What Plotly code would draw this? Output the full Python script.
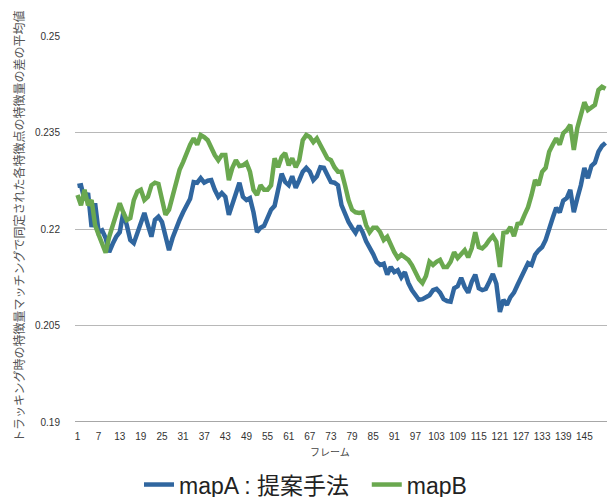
import plotly.graph_objects as go

frames = list(range(1, 152))

map_a = [
    0.2267, 0.2268, 0.2245, 0.2256, 0.2203, 0.2240, 0.2195, 0.2198, 0.2186, 0.2164,
    0.2177, 0.2188, 0.2195, 0.2225, 0.2206, 0.2183, 0.2178, 0.2195, 0.2211, 0.2225,
    0.2206, 0.2188, 0.2214, 0.2219, 0.2211, 0.2191, 0.2167, 0.2186, 0.2202, 0.2214,
    0.2226, 0.2236, 0.2247, 0.2273, 0.2272, 0.2279, 0.2272, 0.2275, 0.2276, 0.2261,
    0.2250, 0.2256, 0.2250, 0.2222, 0.2237, 0.2253, 0.2272, 0.2250, 0.2245, 0.2248,
    0.2226, 0.2195, 0.2202, 0.2205, 0.2217, 0.2230, 0.2236, 0.2264, 0.2286, 0.2273,
    0.2268, 0.2282, 0.2264, 0.2276, 0.2289, 0.2295, 0.2289, 0.2276, 0.2282, 0.2296,
    0.2295, 0.2284, 0.2273, 0.2272, 0.2268, 0.2237, 0.2222, 0.2211, 0.2202, 0.2194,
    0.2205, 0.2195, 0.2181, 0.2172, 0.2161, 0.2149, 0.2144, 0.2146, 0.2129, 0.2141,
    0.2133, 0.2136, 0.2125, 0.2133, 0.2116, 0.2105, 0.2097, 0.2090, 0.2091, 0.2094,
    0.2097, 0.2105, 0.2107, 0.2101, 0.2091, 0.2088, 0.2087, 0.2108, 0.2111, 0.2124,
    0.2110, 0.2101, 0.2118, 0.2129, 0.2108, 0.2105, 0.2107, 0.2118, 0.2130, 0.2115,
    0.2071, 0.2090, 0.2082, 0.2094, 0.2101, 0.2113, 0.2125, 0.2133, 0.2147, 0.2144,
    0.2160, 0.2167, 0.2172, 0.2183, 0.2202, 0.2217, 0.2233, 0.2226, 0.2244, 0.2248,
    0.2261, 0.2226, 0.2248, 0.2268, 0.2295, 0.2279, 0.2298, 0.2303, 0.2320, 0.2329,
    0.2334,
]

map_b = [
    0.2253, 0.2237, 0.2261, 0.2237, 0.2245, 0.2206, 0.2191, 0.2178, 0.2163, 0.2188,
    0.2206, 0.2225, 0.2240, 0.2226, 0.2214, 0.2217, 0.2245, 0.2258, 0.2261, 0.2245,
    0.2250, 0.2268, 0.2272, 0.2270, 0.2248, 0.2222, 0.2230, 0.2253, 0.2272, 0.2292,
    0.2304, 0.2320, 0.2331, 0.2341, 0.2331, 0.2346, 0.2343, 0.2338, 0.2326, 0.2315,
    0.2307, 0.2315, 0.2315, 0.2276, 0.2295, 0.2307, 0.2298, 0.2299, 0.2303, 0.2289,
    0.2261, 0.2253, 0.2268, 0.2261, 0.2261, 0.2268, 0.2310, 0.2296, 0.2312, 0.2318,
    0.2299, 0.2310, 0.2296, 0.2307, 0.2338, 0.2346, 0.2343, 0.2335, 0.2341, 0.2331,
    0.2320, 0.2310, 0.2307, 0.2296, 0.2289, 0.2289, 0.2268, 0.2245, 0.2230, 0.2226,
    0.2225, 0.2226, 0.2206, 0.2195, 0.2202, 0.2202, 0.2195, 0.2183, 0.2188, 0.2175,
    0.2164, 0.2155, 0.2160, 0.2156, 0.2152, 0.2144, 0.2133, 0.2122, 0.2116, 0.2127,
    0.2149, 0.2144, 0.2149, 0.2152, 0.2141, 0.2141, 0.2149, 0.2164, 0.2155, 0.2160,
    0.2167, 0.2156, 0.2170, 0.2195, 0.2172, 0.2170, 0.2175, 0.2183, 0.2189, 0.2180,
    0.2141, 0.2194, 0.2195, 0.2203, 0.2189, 0.2208, 0.2209, 0.2222, 0.2234, 0.2253,
    0.2276, 0.2268, 0.2289, 0.2295, 0.2320, 0.2331, 0.2341, 0.2331, 0.2349, 0.2354,
    0.2362, 0.2323, 0.2357, 0.2377, 0.2397, 0.2385, 0.2390, 0.2393, 0.2416, 0.2421,
    0.2418,
]

x_tick_vals = list(range(1, 151, 6))
y_tick_vals = [0.19, 0.205, 0.22, 0.235, 0.25]
y_tick_text = ["0.19", "0.205", "0.22", "0.235", "0.25"]

series_names = ["mapA : 提案手法", "mapB"]
y_title = "トラッキング時の特徴量マッチングで同定された各特徴点の特徴量の差の平均値"
x_title = "フレーム"

FONT = "Liberation Sans, Arial, Noto Sans CJK JP, sans-serif"
BLUE = "#30669f"
GREEN = "#6aa84f"

fig = go.Figure()
fig.add_trace(go.Scatter(x=frames, y=map_a, mode="lines",
                         name=series_names[0] + "\u00a0\u00a0",
                         line=dict(color=BLUE, width=4.5)))
fig.add_trace(go.Scatter(x=frames, y=map_b, mode="lines", name=series_names[1],
                         line=dict(color=GREEN, width=4.5)))

fig.update_layout(
    width=611, height=497,
    margin=dict(l=75, r=4, t=36, b=75, autoexpand=False),
    paper_bgcolor="white", plot_bgcolor="white",
    font=dict(family=FONT, color="#333333", size=10),
    showlegend=True,
    legend=dict(orientation="h", xref="container", yref="container",
                x=0.5, xanchor="center", y=0.025, yanchor="middle",
                font=dict(size=23, color="#222222", family=FONT),
                itemwidth=30, tracegroupgap=0),
    xaxis=dict(range=[0.29, 151.43], tickmode="array", tickvals=x_tick_vals,
               showgrid=False, zeroline=False, showline=False,
               ticks="outside", ticklen=5, tickcolor="rgba(0,0,0,0)",
               tickfont=dict(size=10, color="#333333")),
    yaxis=dict(range=[0.19, 0.25], tickmode="array", tickvals=y_tick_vals,
               ticktext=y_tick_text, showgrid=True, gridcolor="#b8b8b8",
               gridwidth=1, zeroline=False, showline=False,
               ticks="outside", ticklen=12, tickcolor="rgba(0,0,0,0)",
               tickfont=dict(size=10, color="#333333")),
    annotations=[
        dict(text=y_title, textangle=-90, xref="paper", yref="paper",
             x=-0.103, y=0.508, xanchor="center", yanchor="middle",
             showarrow=False, font=dict(size=12, color="#555555", family=FONT)),
        dict(text=x_title, xref="paper", yref="paper", x=0.48, y=-0.078,
             xanchor="center", yanchor="middle", showarrow=False,
             font=dict(size=10, color="#444444", family=FONT)),
    ],
    shapes=[
        dict(type="line", xref="paper", yref="y", x0=0, x1=1, y0=0.19, y1=0.19,
             line=dict(color="#8a8a8a", width=1.5)),
    ],
)

fig.write_html("out.html")
